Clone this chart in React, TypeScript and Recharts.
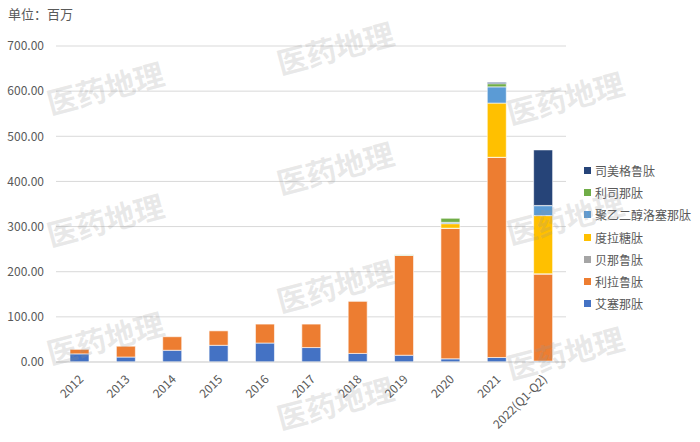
import { BarChart, Bar, XAxis, YAxis, CartesianGrid, Legend } from "recharts";

const categories = ["2012", "2013", "2014", "2015", "2016", "2017", "2018", "2019", "2020", "2021", "2022(Q1-Q2)"];

// stacked from bottom to top
const aisainatai = [18, 11, 26, 37, 42, 32, 19, 15, 7, 10, 2];
const lilalutai = [10, 24, 30, 32, 42, 52, 116, 221, 289, 443, 193];
const beinalutai = [0, 0, 0, 0, 0, 0, 0.2, 0.3, 0.4, 0.5, 0.3];
const dulatangtai = [0, 0, 0, 0, 0, 0, 0, 0, 10, 120, 129];
const peglosainatai = [0, 0, 0, 0, 0, 0, 0, 0, 3, 36, 22];
const lisinatai = [0, 0, 0, 0, 0, 0, 0, 1, 9, 7, 0.5];
const simeigelutai = [0, 0, 0, 0, 0, 0, 0, 0, 0, 3, 123];

const yTicks = [0, 100, 200, 300, 400, 500, 600, 700];

const series = [
    { key: "艾塞那肽", values: aisainatai, color: "#4472C4" },
    { key: "利拉鲁肽", values: lilalutai, color: "#ED7D31" },
    { key: "贝那鲁肽", values: beinalutai, color: "#A5A5A5" },
    { key: "度拉糖肽", values: dulatangtai, color: "#FFC000" },
    { key: "聚乙二醇洛塞那肽", values: peglosainatai, color: "#5B9BD5" },
    { key: "利司那肽", values: lisinatai, color: "#70AD47" },
    { key: "司美格鲁肽", values: simeigelutai, color: "#264478" },
];

const data = categories.map((name, i) => {
    const row: Record<string, string | number> = { name };
    series.forEach((s) => (row[s.key] = s.values[i]));
    return row;
});

const FONT = '"Noto Sans CJK SC", "Noto Sans", sans-serif';
const TEXT = "#595959";

// watermark positions (centre points)
const marks = [
    [105, 85], [105, 217], [105, 335],
    [335, 45], [335, 165], [335, 283], [335, 400],
    [565, 95], [565, 215], [565, 350],
];

function XTick(props: any) {
    const { x, y, payload } = props;
    return (
        <text
            x={x + 5}
            y={y + 10}
            textAnchor="end"
            fontSize={12}
            fill={TEXT}
            fontFamily={FONT}
            transform={`rotate(-45, ${x + 5}, ${y + 10})`}
        >
            {payload.value}
        </text>
    );
}

function LegendBox() {
    return (
        <div style={{ fontFamily: FONT, fontSize: 12, color: TEXT }}>
            {[...series].reverse().map((s) => (
                <div key={s.key} style={{ display: "flex", alignItems: "center", height: 22.3 }}>
                    <span style={{ width: 7, height: 7, background: s.color, marginRight: 4 }} />
                    <span>{s.key}</span>
                </div>
            ))}
        </div>
    );
}

export default function App() {
    return (
        <div style={{ position: "absolute", left: 0, top: 0, width: 700, height: 442, background: "#fff", fontFamily: FONT }}>
            <div style={{ position: "absolute", left: 8, top: 4, fontSize: 13, color: TEXT }}>单位：百万</div>
            <BarChart
                width={700}
                height={442}
                data={data}
                barSize={19}
                margin={{ top: 46, right: 18, bottom: 0, left: 0 }}
            >
                <CartesianGrid vertical={false} stroke="#d9d9d9" />
                <XAxis
                    dataKey="name"
                    height={80}
                    tick={<XTick />}
                    tickLine={false}
                    axisLine={{ stroke: "#d9d9d9" }}
                    interval={0}
                />
                <YAxis
                    width={56}
                    domain={[0, 700]}
                    ticks={yTicks}
                    tickFormatter={(v: number) => v.toFixed(2)}
                    tickLine={false}
                    axisLine={false}
                    tickSize={0}
                    tickMargin={12}
                    tick={{ fontSize: 12, fill: TEXT, fontFamily: FONT }}
                />
                <Legend
                    layout="vertical"
                    align="right"
                    verticalAlign="top"
                    content={<LegendBox />}
                    wrapperStyle={{ top: 159, left: 584, width: 116 }}
                />
                {series.map((s) => (
                    <Bar
                        key={s.key}
                        dataKey={s.key}
                        stackId="a"
                        fill={s.color}
                        stroke="#ffffff"
                        strokeWidth={0.6}
                        isAnimationActive={false}
                    />
                ))}
            </BarChart>
            {marks.map(([x, y], i) => (
                <div
                    key={i}
                    style={{
                        position: "absolute",
                        left: x - 60,
                        top: y - 20,
                        width: 120,
                        textAlign: "center",
                        fontSize: 30,
                        fontWeight: 700,
                        color: "rgba(150,150,150,0.22)",
                        transform: "rotate(-15deg)",
                        pointerEvents: "none",
                        whiteSpace: "nowrap",
                    }}
                >
                    医药地理
                </div>
            ))}
        </div>
    );
}
